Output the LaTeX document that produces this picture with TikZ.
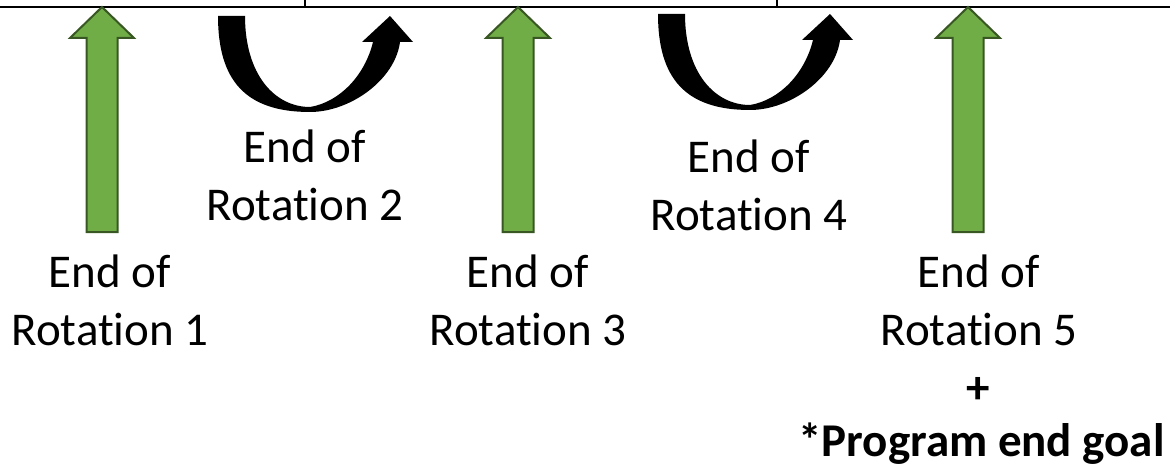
\documentclass[tikz,border=0pt]{standalone}
\usepackage{fontspec}
\setmainfont{Carlito}[Ligatures={NoCommon}]
\definecolor{agreen}{HTML}{70AD47}
\definecolor{dgreen}{HTML}{385723}
\tikzset{
  greenarrow/.style={fill=agreen, draw=dgreen, line width=2pt, line join=miter},
  lbl/.style={font=\fontsize{47}{58}\selectfont, align=center, inner sep=0pt},
  boldlbl/.style={font=\fontsize{47}{58}\selectfont\bfseries, inner sep=0pt},
  uparrow/.pic={
    \filldraw[greenarrow] (0,7) -- (32,38) -- (15.5,38) -- (15.5,232)
      -- (-15.5,232) -- (-15.5,38) -- (-32,38) -- cycle;
  },
  uturn/.pic={
    \fill[black] (218,16) -- (245,16)
      .. controls (245,75) and (275,107) .. (310,107)
      .. controls (340,102) and (365,75) .. (373,42)
      -- (362,42) -- (390,16) -- (413,42) -- (400,42)
      .. controls (395,80) and (350,112) .. (310,112)
      .. controls (245,112) and (218,80) .. (218,16) -- cycle;
  }
}
\begin{document}
\begin{tikzpicture}[x=1pt, y=-1pt]
  \useasboundingbox (0,0) rectangle (1170,468);
  % top border
  \draw[line width=2.5pt] (0,7) -- (1170,7);
  \draw[line width=1.5pt] (305,0) -- (305,7);
  \draw[line width=1.5pt] (777,0) -- (777,7);
  % green arrows
  \pic at (102,0) {uparrow};
  \pic at (518,0) {uparrow};
  \pic at (968,0) {uparrow};
  % u-turn arrows
  \pic at (0,0) {uturn};
  \pic at (440,-2) {uturn};
  % labels (base = baseline of the last line)
  \node[lbl, anchor=base] (r1) at (110,345) {End of\\Rotation 1};
  \node[lbl, anchor=base] (r2) at (305,220) {End of\\Rotation 2};
  \node[lbl, anchor=base] (r3) at (528,345) {End of\\Rotation 3};
  \node[lbl, anchor=base] (r4) at (749,230) {End of\\Rotation 4};
  \node[lbl, anchor=base] (r5) at (979,345) {End of\\Rotation 5};
  \node[boldlbl, anchor=center] (plus) at (978,390) {+};
  \node[boldlbl, anchor=base] (goal) at (981.5,456) {*Program end goal};
\end{tikzpicture}
\end{document}
